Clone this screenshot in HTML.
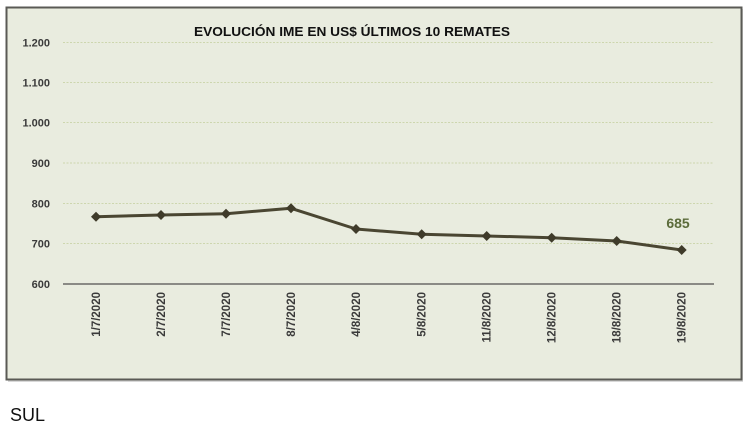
<!DOCTYPE html>
<html><head><meta charset="utf-8"><style>
html,body{margin:0;padding:0;background:#fff;width:750px;height:434px;overflow:hidden}
svg{display:block}
</style></head><body>
<svg width="750" height="434" viewBox="0 0 750 434" xmlns="http://www.w3.org/2000/svg" font-family="'Liberation Sans', sans-serif">
<rect x="0" y="0" width="750" height="434" fill="#ffffff"/>
<rect x="8" y="9" width="735" height="373" fill="#d8d8d8"/>
<rect x="6.5" y="7.5" width="735" height="372" fill="#e9ecdf" stroke="#5a5a55" stroke-width="2"/>
<text x="352" y="36" text-anchor="middle" font-size="13" font-weight="bold" fill="#111" textLength="316" lengthAdjust="spacingAndGlyphs">EVOLUCIÓN IME EN US$ ÚLTIMOS 10 REMATES</text>
<g stroke="#cdd6ae" stroke-width="1" stroke-dasharray="2,1.5">
<line x1="63" y1="42.5" x2="714" y2="42.5"/>
<line x1="63" y1="82.5" x2="714" y2="82.5"/>
<line x1="63" y1="122.5" x2="714" y2="122.5"/>
<line x1="63" y1="163" x2="714" y2="163"/>
<line x1="63" y1="203.5" x2="714" y2="203.5"/>
<line x1="63" y1="243.5" x2="714" y2="243.5"/>
</g>
<line x1="63" y1="284" x2="714" y2="284" stroke="#8a8a85" stroke-width="2"/>
<g font-size="11" font-weight="bold" fill="#3a3a3a" text-anchor="end">
<text x="50" y="46.5">1.200</text>
<text x="50" y="86.5">1.100</text>
<text x="50" y="126.5">1.000</text>
<text x="50" y="167">900</text>
<text x="50" y="207.5">800</text>
<text x="50" y="247.5">700</text>
<text x="50" y="288">600</text>
</g>
<g font-size="11.5" font-weight="bold" fill="#3a3a3a" text-anchor="end">
<text transform="translate(100,292) rotate(-90)">1/7/2020</text>
<text transform="translate(165,292) rotate(-90)">2/7/2020</text>
<text transform="translate(230,292) rotate(-90)">7/7/2020</text>
<text transform="translate(295,292) rotate(-90)">8/7/2020</text>
<text transform="translate(360,292) rotate(-90)">4/8/2020</text>
<text transform="translate(425.5,292) rotate(-90)">5/8/2020</text>
<text transform="translate(490.5,292) rotate(-90)">11/8/2020</text>
<text transform="translate(555.5,292) rotate(-90)">12/8/2020</text>
<text transform="translate(620.5,292) rotate(-90)">18/8/2020</text>
<text transform="translate(685.5,292) rotate(-90)">19/8/2020</text>
</g>
<polyline fill="none" stroke="#4a4632" stroke-width="3" stroke-linejoin="round" points="96,216.7 161,215 226,213.7 291,208.3 356,229 421.7,234.3 486.7,236 551.7,237.7 616.7,241 681.7,250"/>
<g fill="#3f3b2a">
<polygon points="96,211.7 101,216.7 96,221.7 91,216.7"/>
<polygon points="161,210 166,215 161,220 156,215"/>
<polygon points="226,208.7 231,213.7 226,218.7 221,213.7"/>
<polygon points="291,203.3 296,208.3 291,213.3 286,208.3"/>
<polygon points="356,224 361,229 356,234 351,229"/>
<polygon points="421.7,229.3 426.7,234.3 421.7,239.3 416.7,234.3"/>
<polygon points="486.7,231 491.7,236 486.7,241 481.7,236"/>
<polygon points="551.7,232.7 556.7,237.7 551.7,242.7 546.7,237.7"/>
<polygon points="616.7,236 621.7,241 616.7,246 611.7,241"/>
<polygon points="681.7,245 686.7,250 681.7,255 676.7,250"/>
</g>
<text x="678" y="228" text-anchor="middle" font-size="14" font-weight="bold" fill="#5b6b3a">685</text>
<text x="10" y="421" font-size="18" fill="#111">SUL</text>
</svg>
</body></html>
